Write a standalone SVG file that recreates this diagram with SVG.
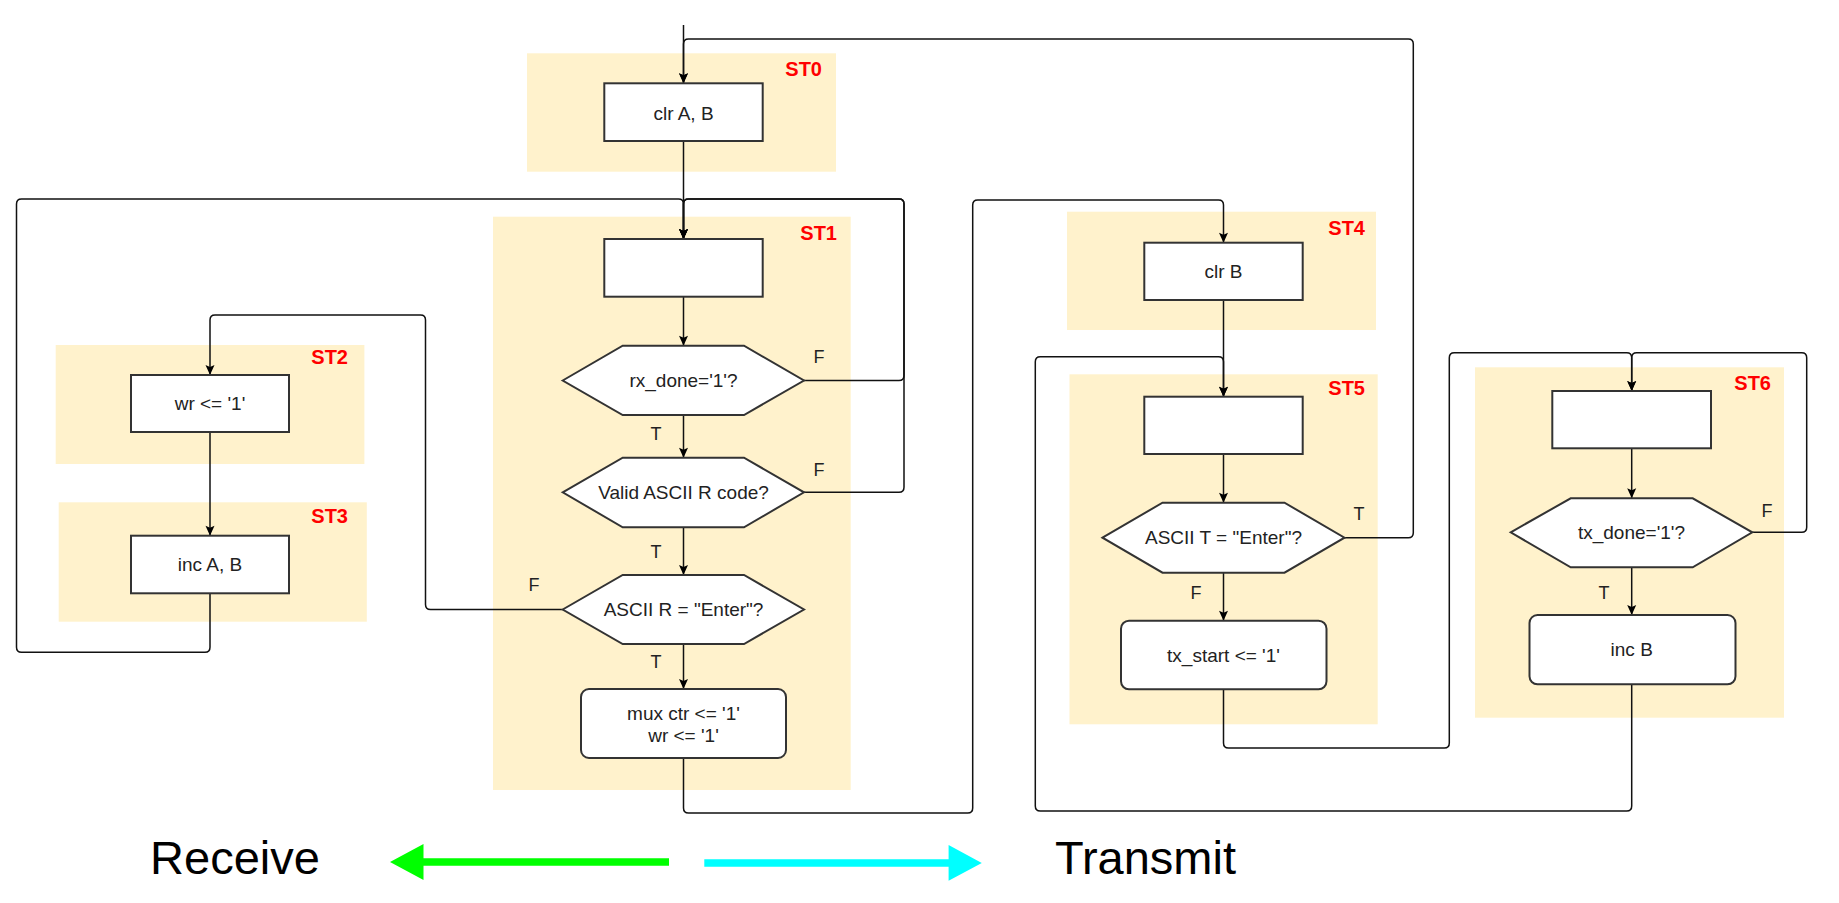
<svg xmlns="http://www.w3.org/2000/svg" width="1839" height="903" viewBox="0 0 1839 903">
<style>
.st{fill:#FFF2CC;stroke:none}
.box{fill:#fff;stroke:#333;stroke-width:2}
.lbl{font-family:"Liberation Sans",Arial,sans-serif;font-size:19px;fill:#222;text-anchor:middle}
.tf{font-family:"Liberation Sans",Arial,sans-serif;font-size:18px;fill:#222;text-anchor:middle}
.stl{font-family:"Liberation Sans",Arial,sans-serif;font-size:20px;font-weight:bold;fill:#FF0000;text-anchor:end}
.big{font-family:"Liberation Sans",Arial,sans-serif;font-size:47px;fill:#000;text-anchor:middle}
.c{fill:none;stroke:#111;stroke-width:1.5}
</style>
<defs>
<marker id="ah" markerUnits="userSpaceOnUse" markerWidth="12" markerHeight="12" viewBox="0 0 12 12" refX="11" refY="6" orient="auto">
<path d="M1,1.5 L11,6 L1,10.5 L3,6 Z" fill="#000"/>
</marker>
</defs>
<rect width="1839" height="903" fill="#fff"/>

<g id="states">
<rect class="st" x="527" y="53.3" width="309" height="118.4"/>
<rect class="st" x="493" y="216.7" width="357.7" height="573.3"/>
<rect class="st" x="55.7" y="345" width="308.7" height="119"/>
<rect class="st" x="58.7" y="502.3" width="308.1" height="119.4"/>
<rect class="st" x="1067" y="211.7" width="309" height="118.3"/>
<rect class="st" x="1069.5" y="374.3" width="308.2" height="350"/>
<rect class="st" x="1475" y="367.3" width="309" height="350.4"/>
<text class="stl" x="822" y="75.5">ST0</text>
<text class="stl" x="837" y="239.5">ST1</text>
<text class="stl" x="348" y="363.5">ST2</text>
<text class="stl" x="348" y="522.5">ST3</text>
<text class="stl" x="1365" y="234.5">ST4</text>
<text class="stl" x="1365" y="394.5">ST5</text>
<text class="stl" x="1771" y="389.5">ST6</text>
</g>

<g id="connectors">
<path class="c" d="M683.5,25 V83.3" marker-end="url(#ah)"/>
<path class="c" d="M683.5,141 V239" marker-end="url(#ah)"/>
<path class="c" d="M210,593.3 V647.3 Q210,652.3 205,652.3 H21.5 Q16.5,652.3 16.5,647.3 V204 Q16.5,199 21.5,199 H678.5 Q683.5,199 683.5,204 V239" marker-end="url(#ah)"/>
<path class="c" d="M804,380.5 H899 Q904,380.5 904,375.5 V204 Q904,199 899,199 H688.5 Q683.5,199 683.5,204 V239" marker-end="url(#ah)"/>
<path class="c" d="M804,492.3 H899 Q904,492.3 904,487.3 V204 Q904,199 899,199 H688.5 Q683.5,199 683.5,204 V239" marker-end="url(#ah)"/>
<path class="c" d="M683.5,296.7 V345.7" marker-end="url(#ah)"/>
<path class="c" d="M683.5,415 V457.7" marker-end="url(#ah)"/>
<path class="c" d="M683.5,527.3 V575" marker-end="url(#ah)"/>
<path class="c" d="M683.5,644 V689" marker-end="url(#ah)"/>
<path class="c" d="M562.7,609.5 H430.5 Q425.5,609.5 425.5,604.5 V320 Q425.5,315 420.5,315 H215 Q210,315 210,320 V375" marker-end="url(#ah)"/>
<path class="c" d="M210,432 V535.7" marker-end="url(#ah)"/>
<path class="c" d="M683.5,758 V808 Q683.5,813 688.5,813 H967.7 Q972.7,813 972.7,808 V205 Q972.7,200 977.7,200 H1218.5 Q1223.5,200 1223.5,205 V242.7" marker-end="url(#ah)"/>
<path class="c" d="M1223.5,300 V396.7" marker-end="url(#ah)"/>
<path class="c" d="M1223.5,454 V502.7" marker-end="url(#ah)"/>
<path class="c" d="M1344,537.7 H1408.3 Q1413.3,537.7 1413.3,532.7 V44 Q1413.3,39 1408.3,39 H688.5 Q683.5,39 683.5,44 V83.3" marker-end="url(#ah)"/>
<path class="c" d="M1223.5,572.7 V620.7" marker-end="url(#ah)"/>
<path class="c" d="M1223.5,689.3 V743 Q1223.5,748 1228.5,748 H1444.3 Q1449.3,748 1449.3,743 V357.7 Q1449.3,352.7 1454.3,352.7 H1626.7 Q1631.7,352.7 1631.7,357.7 V391" marker-end="url(#ah)"/>
<path class="c" d="M1631.7,448.3 V498.3" marker-end="url(#ah)"/>
<path class="c" d="M1752.3,532.3 H1801.7 Q1806.7,532.3 1806.7,527.3 V357.7 Q1806.7,352.7 1801.7,352.7 H1636.7 Q1631.7,352.7 1631.7,357.7 V391" marker-end="url(#ah)"/>
<path class="c" d="M1631.7,567.3 V615" marker-end="url(#ah)"/>
<path class="c" d="M1631.7,684.3 V806 Q1631.7,811 1626.7,811 H1040.3 Q1035.3,811 1035.3,806 V361.7 Q1035.3,356.7 1040.3,356.7 H1218.5 Q1223.5,356.7 1223.5,361.7 V396.7" marker-end="url(#ah)"/>
<text class="tf" x="819" y="363">F</text>
<text class="tf" x="819" y="476">F</text>
<text class="tf" x="656" y="440">T</text>
<text class="tf" x="656" y="558">T</text>
<text class="tf" x="534" y="591">F</text>
<text class="tf" x="656" y="668">T</text>
<text class="tf" x="1359" y="520">T</text>
<text class="tf" x="1196" y="599">F</text>
<text class="tf" x="1767" y="517">F</text>
<text class="tf" x="1604" y="599">T</text>
</g>

<g id="n_clrAB"><rect class="box" x="604.3" y="83.3" width="158.4" height="57.7"/><text class="lbl" x="683.5" y="119.5">clr A, B</text></g>
<g id="n_st1box"><rect class="box" x="604.3" y="239" width="158.4" height="57.7"/></g>
<g id="n_rxdone"><polygon class="box" points="562.7,380.5 622.7,345.7 744,345.7 804,380.5 744,415 622.7,415"/><text class="lbl" x="683.5" y="387">rx_done='1'?</text></g>
<g id="n_valid"><polygon class="box" points="562.7,492.3 622.7,457.7 744,457.7 804,492.3 744,527.3 622.7,527.3"/><text class="lbl" x="683.5" y="499">Valid ASCII R code?</text></g>
<g id="n_enterR"><polygon class="box" points="562.7,609.5 622.7,575 744,575 804,609.5 744,644 622.7,644"/><text class="lbl" x="683.5" y="616">ASCII R = "Enter"?</text></g>
<g id="n_mux"><rect class="box" x="581" y="689" width="205" height="69" rx="8"/><text class="lbl" x="683.5" y="720">mux ctr &lt;= '1'</text><text class="lbl" x="683.5" y="742">wr &lt;= '1'</text></g>
<g id="n_wr"><rect class="box" x="131" y="375" width="158" height="57"/><text class="lbl" x="210" y="410">wr &lt;= '1'</text></g>
<g id="n_incAB"><rect class="box" x="131" y="535.7" width="158" height="57.6"/><text class="lbl" x="210" y="571">inc A, B</text></g>
<g id="n_clrB"><rect class="box" x="1144.3" y="242.7" width="158.4" height="57.3"/><text class="lbl" x="1223.5" y="278">clr B</text></g>
<g id="n_st5box"><rect class="box" x="1144.3" y="396.7" width="158.4" height="57.3" stroke="#555"/></g>
<g id="n_asciiT"><polygon class="box" points="1102.5,537.7 1162.5,502.7 1284.5,502.7 1344.5,537.7 1284.5,572.7 1162.5,572.7"/><text class="lbl" x="1223.5" y="544">ASCII T = "Enter"?</text></g>
<g id="n_txstart"><rect class="box" x="1121" y="620.7" width="205.5" height="68.6" rx="8"/><text class="lbl" x="1223.5" y="661.7">tx_start &lt;= '1'</text></g>
<g id="n_st6box"><rect class="box" x="1552.3" y="391" width="158.7" height="57.3" stroke="#555"/></g>
<g id="n_txdone"><polygon class="box" points="1510.7,532.3 1570.7,498.3 1692.7,498.3 1752.3,532.3 1692.7,567.3 1570.7,567.3"/><text class="lbl" x="1631.5" y="539">tx_done='1'?</text></g>
<g id="n_incB"><rect class="box" x="1529.5" y="615" width="206" height="69.3" rx="8"/><text class="lbl" x="1631.7" y="656">inc B</text></g>

<g id="legend">
<polygon points="390,862 423.5,844 423.5,858.3 669,858.3 669,865.7 423.5,865.7 423.5,880" fill="#00FF00"/>
<polygon points="704.3,859.3 948.6,859.3 948.6,845 981.8,863 948.6,880.7 948.6,866.7 704.3,866.7" fill="#00FFFF"/>
<text class="big" x="235" y="874">Receive</text>
<text class="big" x="1145.5" y="874">Transmit</text>
</g>
</svg>
